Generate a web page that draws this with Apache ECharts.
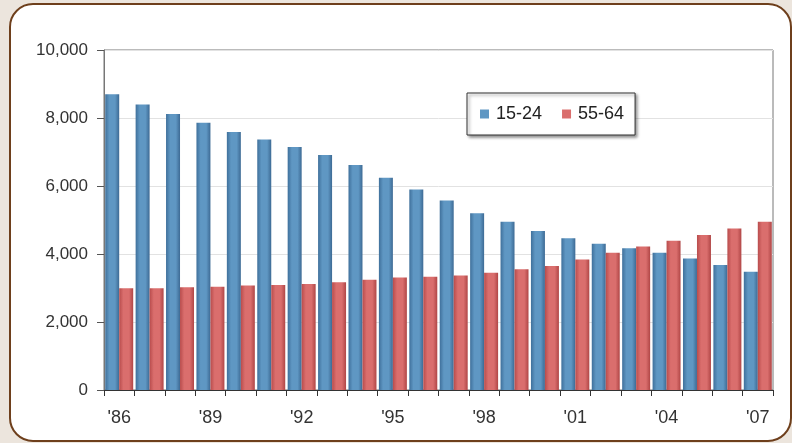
<!DOCTYPE html>
<html><head><meta charset="utf-8">
<script src="https://cdn.jsdelivr.net/npm/echarts@6/dist/echarts.min.js"></script>
<style>
html,body{margin:0;padding:0;background:#ece5dd;overflow:hidden;}
#panel{position:absolute;left:9px;top:3px;width:779px;height:435px;border:2px solid #6e3f1c;border-radius:24px;background:#fff;}
#chart{position:absolute;left:0;top:0;width:792px;height:443px;}
</style></head>
<body>
<div id="panel"></div>
<div id="chart"></div>
<script>
const categories = ["'86","'87","'88","'89","'90","'91","'92","'93","'94","'95","'96","'97","'98","'99","'00","'01","'02","'03","'04","'05","'06","'07"];
const youth = [8700,8400,8120,7860,7590,7370,7150,6910,6620,6240,5900,5570,5200,4950,4680,4460,4300,4170,4040,3870,3680,3480];
const older = [2990,2990,3020,3040,3070,3090,3120,3170,3240,3310,3330,3370,3450,3550,3650,3840,4040,4220,4390,4560,4750,4950];
const seriesNames = ['15-24','55-64'];

const chart = echarts.init(document.getElementById('chart'));
const blueGrad = new echarts.graphic.LinearGradient(0,0,1,0,[
  {offset:0,color:'#3f709b'},{offset:0.3,color:'#5f97c3'},{offset:0.7,color:'#5f97c3'},{offset:1,color:'#3d6a94'}]);
const redGrad = new echarts.graphic.LinearGradient(0,0,1,0,[
  {offset:0,color:'#b84c4c'},{offset:0.3,color:'#da6e6d'},{offset:0.7,color:'#da6e6d'},{offset:1,color:'#b04646'}]);
chart.setOption({
  animation:false,
  textStyle:{fontFamily:'Liberation Sans, Arial, sans-serif'},
  grid:{left:104,right:19,top:50,bottom:53,show:true,borderColor:'#777',borderWidth:1},
  legend:{
    left:467, top:93, orient:'horizontal',
    backgroundColor:'#fff', borderColor:'#333', borderWidth:1,
    shadowColor:'rgba(0,0,0,0.45)', shadowBlur:3, shadowOffsetX:2, shadowOffsetY:2,
    padding:[12,11,12,13], itemGap:20, itemWidth:9, itemHeight:9,
    textStyle:{fontSize:18,color:'#222',padding:[0,0,0,2]},
    data:[{name:seriesNames[0],icon:'rect',itemStyle:{color:'#5f97c3'}},{name:seriesNames[1],icon:'rect',itemStyle:{color:'#da6e6d'}}]
  },
  xAxis:{
    type:'category', data:categories,
    axisLine:{lineStyle:{color:'#333',width:1}},
    axisTick:{show:true,interval:0,length:6,lineStyle:{color:'#333'}},
    axisLabel:{interval:2,fontSize:18,color:'#333',margin:19}
  },
  yAxis:{
    type:'value', min:0, max:10000, interval:2000,
    axisLine:{show:true,lineStyle:{color:'#777'}},
    axisTick:{show:true,length:7,lineStyle:{color:'#555'}},
    axisLabel:{fontSize:17,color:'#333',margin:16,formatter:v=>v.toLocaleString('en-US')},
    splitLine:{lineStyle:{color:'#e2e2e2'}}
  },
  series:[
    {name:seriesNames[0],type:'bar',data:youth,barGap:'0%',barCategoryGap:'8%',itemStyle:{color:blueGrad}},
    {name:seriesNames[1],type:'bar',data:older,itemStyle:{color:redGrad}}
  ]
});
</script>
</body></html>
